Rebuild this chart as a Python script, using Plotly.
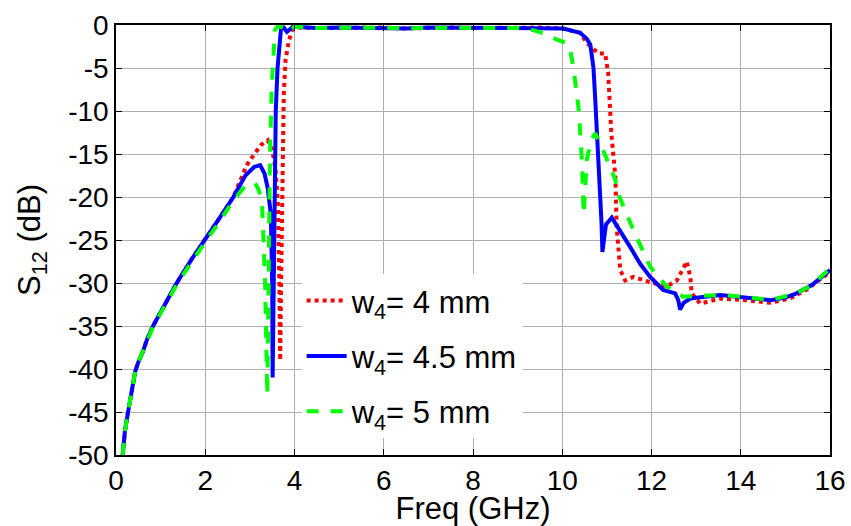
import plotly.graph_objects as go

# ---- data ----
low_x = [0.15, 0.2, 0.27, 0.35, 0.43, 0.5, 0.6, 0.7, 0.83, 1.0, 1.36, 1.7, 2.0, 2.3, 2.63]
low_y = [-50, -47.2, -45, -42.4, -40.3, -39.2, -38.0, -36.5, -35, -33.4, -30, -27.2, -25, -22.6, -20]

pass_x = [4.5, 5.0, 5.5, 6.0, 6.5, 7.0, 7.5, 8.0, 8.5, 9.0]
pass_y = [-0.35, -0.3, -0.35, -0.3, -0.4, -0.3, -0.3, -0.35, -0.3, -0.35]

red_x = low_x + [2.93, 3.1, 3.26, 3.4, 3.5, 3.58, 3.63, 3.66, 3.68, 3.7, 3.73, 3.76, 3.8, 3.88, 3.95, 4.05] \
    + pass_x + [9.5, 10.0, 10.4, 10.55, 10.81, 10.96, 11.03, 11.1, 11.19, 11.22, 11.3, 11.41,
                11.59, 11.9, 12.34, 12.57, 12.79, 12.87, 12.9, 13.09, 13.54, 14.1, 14.66,
                15.1, 15.47, 16.0]
red_y = low_y + [-16.3, -15.0, -13.9, -13.4, -14.5, -17.0, -21.0, -30.0, -39.0, -30.0, -18.0, -8.0, -4.0, -1.7, -0.6, -0.3] \
    + pass_y + [-0.3, -0.4, -0.9, -2.1, -3.3, -3.3, -5.6, -12.6, -17.6, -23.5, -28.5, -29.7,
                -29.3, -29.8, -30.4, -29.7, -27.5, -29.3, -31.2, -32.4, -31.8, -32.0, -32.3,
                -31.8, -30.8, -28.7]

blue_x = low_x + [2.9, 3.1, 3.23, 3.33, 3.4, 3.47, 3.5, 3.51, 3.53, 3.55, 3.58, 3.62, 3.66, 3.7, 3.76, 3.83, 3.97] \
    + pass_x + [9.5, 10.02, 10.4, 10.55, 10.63, 10.7, 10.74, 10.81, 10.85, 10.88, 10.9, 10.93,
                10.98, 11.11, 11.25, 11.52, 11.75, 11.97, 12.26, 12.53, 12.6, 12.64, 12.72,
                12.87, 13.54, 14.1, 14.66, 15.0, 15.25, 15.6, 16.0]
blue_y = low_y + [-17.5, -16.5, -16.3, -17.3, -19.0, -22.0, -30.0, -41.0, -30.0, -20.0, -10.0, -5.0, -2.0, -0.3, -0.3, -0.8, -0.2] \
    + pass_y + [-0.3, -0.4, -0.9, -1.6, -2.3, -5.0, -8.7, -15.7, -18.0, -23.0, -26.4, -25.0,
                -23.2, -22.4, -23.5, -25.8, -27.8, -29.3, -30.8, -31.2, -32.0, -33.1, -32.3,
                -31.8, -31.4, -31.7, -32.0, -31.7, -31.2, -30.2, -28.5]

green_x = [0.15, 0.2, 0.27, 0.35, 0.43, 0.5, 0.6, 0.7, 0.83, 1.0, 1.36, 1.7, 2.0, 2.3, 2.63,
           2.85, 3.0, 3.12, 3.2, 3.27, 3.34, 3.39, 3.42, 3.45, 3.49, 3.53, 3.56, 3.63, 3.78, 3.9, 4.0] \
    + pass_x + [9.35, 9.6, 9.88, 10.1, 10.18, 10.25, 10.37, 10.44, 10.48, 10.52, 10.55, 10.65,
                10.74, 10.87, 11.0, 11.19, 11.25, 11.59, 11.97, 12.34, 12.71, 13.2, 13.54,
                14.1, 14.66, 15.25, 15.6, 16.0]
green_y = [-50, -47.2, -45, -42.4, -40.3, -39.2, -38.0, -36.6, -35.1, -33.5, -30.2, -27.5, -25.3, -23.0, -20.4,
           -19.0, -18.4, -18.4, -19.2, -20.5, -29.7, -43.0, -30.0, -15.0, -7.2, -2.5, -0.6, -0.1, -0.4, -0.8, -0.2] \
    + pass_y + [-0.6, -1.0, -1.7, -2.1, -2.9, -4.9, -9.9, -15.7, -22.0, -18.0, -15.7, -13.3,
                -12.6, -14.0, -15.7, -18.0, -19.6, -23.8, -28.1, -30.4, -31.6, -31.5, -31.4,
                -31.6, -32.0, -31.2, -30.2, -28.3]

names = ["w<sub>4</sub>= 4 mm", "w<sub>4</sub>= 4.5 mm", "w<sub>4</sub>= 5 mm"]
x_ticks = [0, 2, 4, 6, 8, 10, 12, 14, 16]
y_ticks = [0, -5, -10, -15, -20, -25, -30, -35, -40, -45, -50]

FONT = "Liberation Sans, Arial, sans-serif"

fig = go.Figure()
fig.add_trace(go.Scatter(x=red_x, y=red_y, mode="lines", name=names[0], legendgroup="a",
                         line=dict(color="#ff0000", width=4, dash="dot")))
fig.add_trace(go.Scatter(x=blue_x, y=blue_y, mode="lines", name=names[1], legendgroup="b",
                         line=dict(color="#0000ff", width=4)))
fig.add_trace(go.Scatter(x=green_x, y=green_y, mode="lines", name=names[2], legendgroup="c",
                         line=dict(color="#00ff00", width=4, dash="dash")))

axis_common = dict(
    showline=True, linecolor="black", linewidth=1.5, mirror="ticks",
    ticks="inside", ticklen=6, tickcolor="black", tickwidth=1,
    showgrid=True, gridcolor="#b0b0b0", gridwidth=1,
    zeroline=False, automargin=False,
    tickfont=dict(family=FONT, size=28, color="black"),
)

fig.update_layout(
    width=851, height=526,
    margin=dict(l=116, r=21, t=25, b=71),
    paper_bgcolor="white", plot_bgcolor="white",
    font=dict(family=FONT, color="black"),
    showlegend=True,
    legend=dict(
        x=0.26, y=0.421, xanchor="left", yanchor="top",
        bgcolor="white", borderwidth=0,
        font=dict(family=FONT, size=31, color="black"),
        itemwidth=40, tracegroupgap=12,
    ),
    xaxis=dict(range=[0, 16], tickvals=x_ticks, ticktext=[str(v) for v in x_ticks],
               title=dict(text="Freq (GHz)", font=dict(family=FONT, size=31), standoff=3),
               **axis_common),
    yaxis=dict(range=[-50, 0], tickvals=y_ticks, ticktext=[str(v) for v in y_ticks],
               title=dict(text="S<sub>12</sub> (dB)", font=dict(family=FONT, size=31), standoff=18),
               **axis_common),
)

fig.write_html(
    "out.html",
    config={"displayModeBar": False},
    post_script="document.body.style.margin='0';document.body.style.overflow='hidden';",
)
